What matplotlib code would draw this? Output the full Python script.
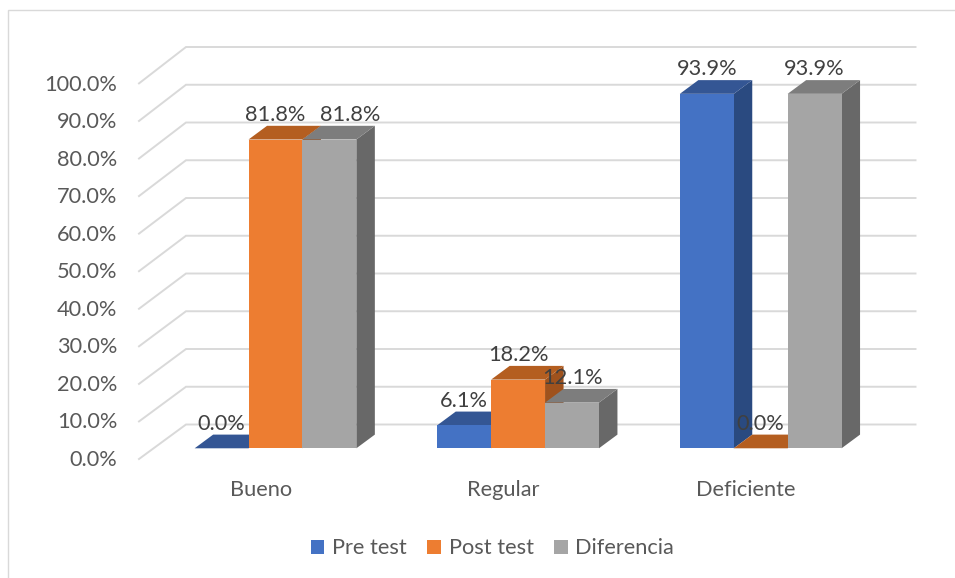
import matplotlib
matplotlib.use("Agg")
import matplotlib.pyplot as plt
from matplotlib.patches import Patch, Rectangle

categories = ["Bueno", "Regular", "Deficiente"]
series_names = ["Pre test", "Post test", "Diferencia"]
pre_test = [0.0, 6.1, 93.9]
post_test = [81.8, 18.2, 0.0]
diferencia = [81.8, 12.1, 93.9]
y_ticks = [0, 10, 20, 30, 40, 50, 60, 70, 80, 90, 100]

# front / top / side faces
BLUE = ("#4472C4", "#345694", "#2A4A80")
ORANGE = ("#ED7D31", "#B45E20", "#9F521D")
GRAY = ("#A5A5A5", "#7D7D7D", "#686868")
GRID = "#D9D9D9"

W, H = 955, 578
PX_CAT = 242.6     # pixels per category
PX_PCT = 3.775     # pixels per percent
X0, Y0 = 275.5, 448.3   # pixel of category 0 / 0 % on the bar front plane
BAR_W = 53.9 / PX_CAT
DX = 18.5 / PX_CAT   # bar depth
DY = 13.7 / PX_PCT
FS = 15.7


def px_x(p):
    return (p - X0) / PX_CAT


def px_y(p):
    return (Y0 - p) / PX_PCT


plt.rcParams["font.family"] = ["Lato", "DejaVu Sans"]

fig = plt.figure(figsize=(W / 100, H / 100), dpi=100)
ax = fig.add_axes([0, 0, 1, 1])
ax.set_xlim(px_x(0), px_x(W))
ax.set_ylim(px_y(H), px_y(0))
ax.axis("off")

# chart frame
ax.add_patch(Rectangle((px_x(7.5), px_y(590)), px_x(975) - px_x(7.5), px_y(10.5) - px_y(590),
                       facecolor="white", edgecolor=GRID, linewidth=1.0, zorder=0))

# gridlines on side and back wall
back_0 = px_y(424.5)
front_0 = px_y(459)
for t in y_ticks:
    yb = back_0 + t
    yf = front_0 + t * 0.995
    ax.plot([px_x(139), px_x(186), px_x(915.5)], [yf, yb, yb],
            color=GRID, linewidth=1.4, solid_joinstyle="miter", zorder=1)
    ax.text(px_x(117.5), px_y(459.5) + t * 0.993, f"{t:.1f}%", ha="right", va="center",
            fontsize=FS, color="#595959", zorder=5)

# bars, back to front in each group
all_series = [(pre_test, BLUE), (post_test, ORANGE), (diferencia, GRAY)]
z = 2
for i in range(len(categories)):
    for j, (vals, cols) in enumerate(all_series):
        v = vals[i]
        left = i + (j - 1.5) * BAR_W
        right = left + BAR_W
        ax.fill([right, right + DX, right + DX, right], [0, DY, v + DY, v],
                color=cols[2], linewidth=0, zorder=z)
        ax.fill([left, left + DX, right + DX, right], [v, v + DY, v + DY, v],
                color=cols[1], linewidth=0, zorder=z)
        ax.bar(left, v, width=BAR_W, align="edge", color=cols[0], linewidth=0, zorder=z + 0.5)
        z += 1

# data labels
for j, (vals, cols) in enumerate(all_series):
    for i, v in enumerate(vals):
        cx = i + (j - 1) * BAR_W
        if i == 0 and j == 2:
            cx += 21 / PX_CAT   # this one was dragged sideways in the original
        ax.text(cx, v + 24.5 / PX_PCT, f"{v:.1f}%", ha="center", va="center",
                fontsize=FS, color="#404040", zorder=50)

# category labels
for i, name in enumerate(categories):
    ax.text(i - 14.5 / PX_CAT, px_y(490.5), name, ha="center", va="center",
            fontsize=FS, color="#595959", zorder=50)

handles = [Patch(facecolor=c[0], label=n) for n, c in zip(series_names, [BLUE, ORANGE, GRAY])]
ax.legend(handles=handles, loc="center", bbox_to_anchor=(492.5 / W, 1 - 548.5 / H), ncol=3,
          frameon=False, fontsize=FS, labelcolor="#595959", handlelength=0.62, handleheight=0.62,
          handletextpad=0.35, columnspacing=0.95, borderpad=0, borderaxespad=0)

fig.savefig("out.png", dpi=100)
